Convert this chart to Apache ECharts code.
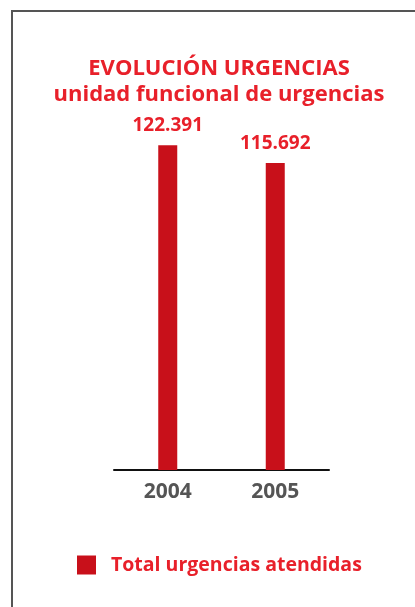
<!DOCTYPE html>
<html>
<head>
<meta charset="utf-8">
<style>
  html, body { margin: 0; padding: 0; background: #fff; }
  #chart { width: 415px; height: 607px; }
</style>
<script src="https://cdn.jsdelivr.net/npm/echarts@6/dist/echarts.min.js"></script>
</head>
<body>
<div id="chart"></div>
<script>
// datos
const years = ["2004", "2005"];
const urgencias = [122391, 115692];
const seriesName = "Total urgencias atendidas";

const red = "#e8202a";
const barRed = "#c8101a";
const font = "Open Sans";

// formato con punto de miles
function miles(v) {
  return String(v).replace(/\B(?=(\d{3})+(?!\d))/g, ".");
}

const myChart = echarts.init(document.getElementById("chart"));
myChart.setOption({
  animation: false,
  title: {
    text: "EVOLUCIÓN URGENCIAS",
    subtext: "unidad funcional de urgencias",
    left: 214,
    textAlign: "center",
    top: 53,
    itemGap: 4,
    textStyle: { color: red, fontFamily: font, fontWeight: "bold", fontSize: 22 },
    subtextStyle: { color: red, fontFamily: font, fontWeight: "bold", fontSize: 22 }
  },
  legend: {
    left: 72,
    top: 550,
    itemWidth: 19,
    itemHeight: 19,
    icon: "rect",
    data: [seriesName],
    textStyle: { color: red, fontFamily: font, fontWeight: "bold", fontSize: 19.5, padding: [0, 0, 0, 10] }
  },
  graphic: [
    {
      type: "polyline",
      shape: { points: [[12, 607], [12, 11], [415, 11]] },
      style: { stroke: "#555", lineWidth: 2, fill: null }
    }
  ],
  grid: { left: 114, right: 86, top: 125, bottom: 137 },
  xAxis: {
    type: "category",
    data: years,
    axisLine: { lineStyle: { color: "#111", width: 2 } },
    axisTick: { show: false },
    axisLabel: { color: "#555", fontFamily: font, fontWeight: "bold", fontSize: 21, margin: 12 }
  },
  yAxis: {
    type: "value",
    min: 0,
    max: 130000,
    show: false,
    splitLine: { show: false }
  },
  series: [
    {
      name: seriesName,
      type: "bar",
      data: urgencias,
      barWidth: 19,
      itemStyle: { color: barRed },
      label: {
        show: true,
        position: "top",
        distance: 10,
        color: red,
        fontFamily: font,
        fontWeight: "bold",
        fontSize: 19,
        formatter: p => miles(p.value)
      }
    }
  ]
});
</script>
</body>
</html>
